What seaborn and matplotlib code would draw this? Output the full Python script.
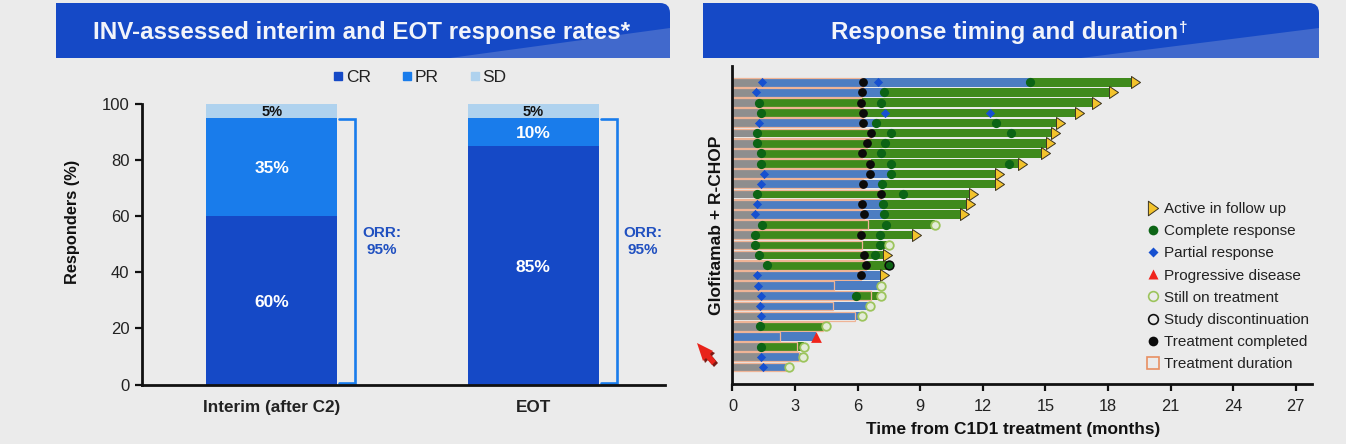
import matplotlib
matplotlib.use("Agg")
import matplotlib.pyplot as plt
import numpy as np
import pandas as pd
import seaborn as sns
from matplotlib.lines import Line2D
from matplotlib.patches import PathPatch, Polygon
from matplotlib.path import Path

W, H = 1346, 444
BG = "#ebebeb"
HEADER = "#1549c6"
WEDGE = "#4169cc"
CR_BLUE = "#1549c6"
PR_BLUE = "#197ceb"
SD_BLUE = "#afd2ee"

# left panel
timepoints = ["Interim (after C2)", "EOT"]
cr_rate = [60, 85]
pr_rate = [35, 10]
sd_rate = [5, 5]
orr = [95, 95]

# right panel, one row per patient, months from C1D1
first_pr = [1.43, 1.12, None, None, 1.27, None, None, None, None, 1.52, 1.36, None, 1.17, 1.08,
            None, None, None, None, None, 1.17, 1.24, 1.38, 1.32, 1.35, None, None, None, 1.38, 1.44]
first_cr = [14.28, 7.25, 1.25, 1.38, 6.90, 1.16, 1.16, 1.38, 1.36, 7.58, 7.19, 1.17, 7.23, 7.25,
            1.41, 1.09, 1.09, 1.27, 1.65, None, None, 5.94, None, None, 1.33, None, 1.35, None, None]
# extra markers as (row, month)
extra_pr = [(0, 6.96), (3, 7.30), (3, 12.35)]
extra_cr = [(2, 7.14), (4, 12.64), (5, 7.58), (5, 13.34), (6, 7.30), (7, 7.12), (8, 7.62), (8, 13.26),
            (11, 8.19), (14, 7.38), (15, 7.06), (16, 7.06), (17, 6.82), (18, 7.49)]
tx_end = [6.24, 6.21, 6.18, 6.24, 6.24, 6.66, 6.45, 6.21, 6.59, 6.59, 6.28, 7.12, 6.21, 6.31, 6.50,
          6.18, 6.21, 6.31, 6.42, 6.18, 4.89, 6.66, 4.83, 5.85, 4.35, 2.30, 3.07, 3.20, 2.56]
completed = [0, 1, 2, 3, 4, 5, 6, 7, 8, 9, 10, 11, 12, 13, 15, 17, 18, 19]
last_time = [19.10, 18.06, 17.23, 16.42, 15.51, 15.29, 15.03, 14.81, 13.68, 12.59, 12.59, 11.35, 11.20, 10.89, 9.71,
             8.62, 7.52, 7.22, 7.49, 7.09, 7.14, 7.14, 6.59, 6.21, 4.49, 3.98, 3.44, 3.39, 2.72]
active_rows = [0, 1, 2, 3, 4, 5, 6, 7, 8, 9, 10, 11, 12, 13, 15, 17, 19]
still_rows = [14, 16, 20, 21, 22, 23, 24, 26, 27, 28]
pd_rows = [25]
disc_rows = [18]

sns.set_theme(style="white")
plt.rcParams["font.family"] = ["Liberation Sans", "DejaVu Sans"]


def px_ax(fig, x0, x1, y_top, y_bottom):
    return fig.add_axes([x0 / W, 1 - y_bottom / H, (x1 - x0) / W, (y_bottom - y_top) / H], facecolor="none")


def header(fig, x0, x1, wedge_x):
    y0, y1, r = 3, 58, 10
    verts = [(x0, y1), (x0, y0), (x1 - r, y0), (x1, y0), (x1, y0 + r), (x1, y1), (x0, y1)]
    codes = [Path.MOVETO, Path.LINETO, Path.LINETO, Path.CURVE3, Path.CURVE3, Path.LINETO, Path.CLOSEPOLY]
    verts = [(a / W, 1 - b / H) for a, b in verts]
    fig.add_artist(PathPatch(Path(verts, codes), fc=HEADER, ec="none", transform=fig.transFigure))
    wedge = [(wedge_x, y1), (x1, 28), (x1, y1)]
    fig.add_artist(Polygon([(a / W, 1 - b / H) for a, b in wedge], fc=WEDGE, ec="none", transform=fig.transFigure))


def style_axis(ax, tick_size):
    ax.spines[["top", "right"]].set_visible(False)
    ax.spines[["left", "bottom"]].set_linewidth(2)
    ax.spines[["left", "bottom"]].set_color("#111111")
    ax.tick_params(axis="both", which="major", length=5, width=1.6, color="#111111",
                   labelsize=tick_size, labelcolor="#222222", pad=4, left=True, bottom=True)


def draw_rates(ax):
    df = pd.DataFrame({"timepoint": timepoints, "CR": cr_rate, "PR": pr_rate, "SD": sd_rate})
    df["cr_pr"] = df["CR"] + df["PR"]
    df["total"] = df["cr_pr"] + df["SD"]
    for col, c in [("total", SD_BLUE), ("cr_pr", PR_BLUE), ("CR", CR_BLUE)]:
        sns.barplot(data=df, x="timepoint", y=col, color=c, saturation=1, width=0.5, linewidth=0, ax=ax)
    ax.set_xlim(-0.496, 1.504)
    ax.set_ylim(0, 100)
    ax.set_yticks(range(0, 101, 20))
    ax.set_xlabel("")
    ax.set_ylabel("Responders (%)", fontsize=11.8, fontweight="bold", color="#111111")
    ax.yaxis.set_label_coords(-0.119, 0.579)
    style_axis(ax, 12)
    ax.tick_params(axis="x", length=0, pad=11, labelsize=12.3)
    for t in ax.get_xticklabels():
        t.set_fontweight("bold")
        t.set_color("#222222")

    for i, row in df.iterrows():
        ax.text(i, row["CR"] / 2 - 0.8, f"{row['CR']}%", color="white", fontsize=12.5, fontweight="bold", ha="center", va="center")
        ax.text(i, row["CR"] + row["PR"] / 2 - 0.6, f"{row['PR']}%", color="white", fontsize=12.5, fontweight="bold", ha="center", va="center")
        ax.text(i, row["cr_pr"] + row["SD"] / 2 - 0.4, f"{row['SD']}%", color="#111111", fontsize=10.5, fontweight="bold", ha="center", va="center")

        # ORR bracket
        ax.plot([i + 0.259, i + 0.32, i + 0.32, i + 0.259], [row["cr_pr"] - 0.4, row["cr_pr"] - 0.4, 0.6, 0.6],
                color=PR_BLUE, lw=1.9, solid_joinstyle="miter", clip_on=False)
        ax.text(i + 0.42, 51, f"ORR:\n{orr[i]}%", color="#2050c0", fontsize=11, fontweight="bold",
                ha="center", va="center", linespacing=1.28)

    handles = [Line2D([], [], ls="", marker="s", ms=6, color=c, label=n)
               for n, c in [("CR", CR_BLUE), ("PR", PR_BLUE), ("SD", SD_BLUE)]]
    ax.legend(handles=handles, ncol=3, frameon=False, loc="center", bbox_to_anchor=(0.531, 1.093),
              fontsize=12.5, handlelength=0.6, handletextpad=0.12, columnspacing=1.8, labelcolor="#222222")


def draw_swimmer(ax):
    rows = np.arange(len(last_time))
    seg_h = 0.84
    for r in rows:
        pr, cr, end = first_pr[r], first_cr[r], last_time[r]
        start = [v for v in (pr, cr) if v is not None]
        start = min(start) if start else 0
        if start > 0:
            ax.barh(r, start, height=seg_h, color="#8e8e8e", lw=0)
        if cr is None:
            ax.barh(r, end - start, left=start, height=seg_h, color="#4c7dc2", lw=0)
        else:
            if cr > start:
                ax.barh(r, cr - start, left=start, height=seg_h, color="#4c7dc2", lw=0)
            ax.barh(r, end - cr, left=cr, height=seg_h, color="#3f8a1c", lw=0)
        # treatment duration outline
        ax.barh(r, tx_end[r], height=0.88, fc="none", ec="#efb496", lw=0.9)

    tri = Path([(0, -1), (1.5, 0), (0, 1), (0, -1)], closed=True)
    tri_legend = Path([(-0.7, -1), (0.7, 0), (-0.7, 1), (-0.7, -1)], closed=True)
    pr_pts = [(r, first_pr[r]) for r in rows if first_pr[r] is not None] + extra_pr
    cr_pts = [(r, first_cr[r]) for r in rows if first_cr[r] is not None] + extra_cr

    sns.scatterplot(x=[last_time[r] for r in active_rows], y=active_rows, marker=tri, s=168,
                    color="#f3c32c", edgecolor="#3a3320", linewidth=0.7, ax=ax, zorder=4, clip_on=False)
    sns.scatterplot(x=[p[1] for p in cr_pts], y=[p[0] for p in cr_pts], marker="o", s=44,
                    color="#0c6415", linewidth=0, ax=ax, zorder=5)
    sns.scatterplot(x=[p[1] for p in pr_pts], y=[p[0] for p in pr_pts], marker="D", s=22,
                    color="#1650d0", linewidth=0, ax=ax, zorder=5)
    sns.scatterplot(x=[tx_end[r] for r in completed], y=completed, marker="o", s=40,
                    color="#0b0b0b", linewidth=0, ax=ax, zorder=6)
    sns.scatterplot(x=[last_time[r] for r in still_rows], y=still_rows, marker="o", s=38,
                    color="#e4ecd8", edgecolor="#9cc45c", linewidth=1.3, ax=ax, zorder=6)
    sns.scatterplot(x=[last_time[r] for r in disc_rows], y=disc_rows, marker="o", s=40,
                    color="#0c6415", edgecolor="#0b0b0b", linewidth=1.1, ax=ax, zorder=6)
    sns.scatterplot(x=[last_time[r] for r in pd_rows], y=pd_rows, marker="^", s=60,
                    color="#f0241c", linewidth=0, ax=ax, zorder=6)

    ax.set_xlim(0, 27.76)
    ax.set_ylim(29.67, -1.6)
    ax.set_xticks(range(0, 28, 3))
    ax.set_yticks([])
    ax.set_xlabel("Time from C1D1 treatment (months)", fontsize=12.4, fontweight="bold", color="#111111")
    ax.xaxis.set_label_coords(0.485, -0.12)
    ax.set_ylabel("Glofitamab + R-CHOP", fontsize=12.5, fontweight="bold", color="#111111", labelpad=6)
    style_axis(ax, 11.8)
    ax.tick_params(axis="x", pad=6)

    handles = [
        Line2D([], [], ls="", marker=tri_legend, ms=10.5, mfc="#f3c32c", mec="#3a3320", mew=0.7, label="Active in follow up"),
        Line2D([], [], ls="", marker="o", ms=7, mfc="#0c6415", mec="none", label="Complete response"),
        Line2D([], [], ls="", marker="D", ms=4.8, mfc="#1650d0", mec="none", label="Partial response"),
        Line2D([], [], ls="", marker="^", ms=7, mfc="#f0241c", mec="none", label="Progressive disease"),
        Line2D([], [], ls="", marker="o", ms=7, mfc="none", mec="#9cc45c", mew=1.2, label="Still on treatment"),
        Line2D([], [], ls="", marker="o", ms=7, mfc="none", mec="#111111", mew=1.2, label="Study discontinuation"),
        Line2D([], [], ls="", marker="o", ms=7, mfc="#0b0b0b", mec="none", label="Treatment completed"),
        Line2D([], [], ls="", marker="s", ms=8, mfc="none", mec="#e88f62", mew=1.2, label="Treatment duration"),
    ]
    ax.legend(handles=handles, frameon=False, loc="upper left", bbox_to_anchor=(0.7103, 0.572), borderpad=0, borderaxespad=0,
              fontsize=11, labelspacing=0.535, handletextpad=0.1, handlelength=1.2, labelcolor="#222222")


def pointer(fig):
    # red mouse pointer left over in the slide capture
    arrow = [(697, 343), (713, 351), (710, 354), (716, 361), (712, 365), (706, 358), (703, 361)]
    shadow = [(a + 2, b + 2) for a, b in arrow]
    fig.add_artist(Polygon([(a / W, 1 - b / H) for a, b in shadow], fc="#7a1a14", ec="none", transform=fig.transFigure))
    fig.add_artist(Polygon([(a / W, 1 - b / H) for a, b in arrow], fc="#e8231a", ec="none", transform=fig.transFigure))


fig = plt.figure(figsize=(W / 100, H / 100), dpi=100, facecolor=BG)

header(fig, 56, 670, 450)
header(fig, 703, 1319, 1081)
fig.text(361.5 / W, 1 - 32.5 / H, "INV-assessed interim and EOT response rates*", color="#f2f4fa",
         fontsize=17.4, fontweight="bold", ha="center", va="center")
fig.text(1004.5 / W, 1 - 32.5 / H, "Response timing and duration", color="#f2f4fa",
         fontsize=17.4, fontweight="bold", ha="center", va="center")
fig.text(1179 / W, 1 - 28 / H, "†", color="#f2f4fa", fontsize=11, fontweight="bold", ha="left", va="center")

ax_left = px_ax(fig, 142, 665, 104, 384.5)
draw_rates(ax_left)

ax_right = px_ax(fig, 732.5, 1311.5, 66, 384)
draw_swimmer(ax_right)

pointer(fig)

fig.savefig("out.png", dpi=100, facecolor=BG)
